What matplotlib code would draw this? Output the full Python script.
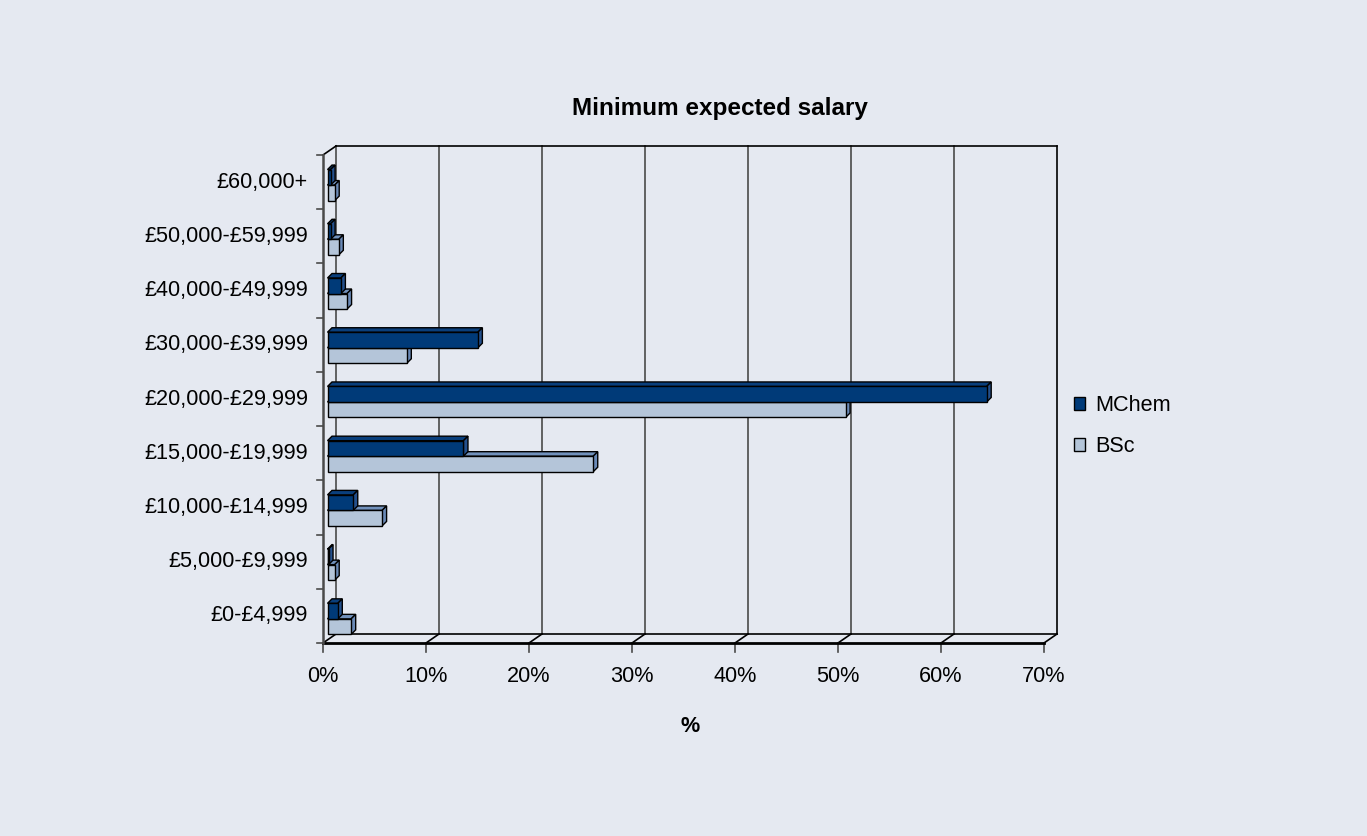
import numpy as np
import matplotlib.pyplot as plt
from matplotlib.patches import Polygon, Patch
from matplotlib.lines import Line2D
from matplotlib.transforms import IdentityTransform

plt.rcParams['font.family'] = ['Liberation Sans', 'DejaVu Sans']

# Survey answers, % of respondents per salary band
categories = ['£0-£4,999', '£5,000-£9,999', '£10,000-£14,999', '£15,000-£19,999',
              '£20,000-£29,999', '£30,000-£39,999', '£40,000-£49,999',
              '£50,000-£59,999', '£60,000+']
mchem = [1.0, 0.1, 2.5, 13.2, 64.0, 14.6, 1.3, 0.3, 0.3]
bsc = [2.3, 0.7, 5.3, 25.8, 50.3, 7.7, 1.9, 1.1, 0.7]
xticks = [0, 10, 20, 30, 40, 50, 60, 70]

bg = '#e5e9f1'
mchem_cols = ('#003a78', '#0a3f7c', '#24508c')   # front, top, side
bsc_cols = ('#b4c5d9', '#7191bc', '#6a8ab7')

W, H = 1367, 836
fig = plt.figure(figsize=(W / 100, H / 100), dpi=100, facecolor=bg)
ax = fig.add_axes([323 / W, 1 - 643 / H, 721 / W, 488 / H])
ax.set_xlim(0, 70)
ax.set_ylim(0, 9)
ax.axis('off')

DEPTH = np.array([13.0, 9.0])      # front plane -> back wall, in pixels
BAR_FRONT = np.array([4.5, 3.0])   # bars sit a little behind the front plane
BAR_DEPTH = np.array([4.5, 4.5])


def P(x, y, off=(0, 0)):
    return ax.transData.transform((x, y)) + np.asarray(off)


def seg(p, q, **kw):
    pts = np.array([p, q])
    ax.add_line(Line2D(pts[:, 0], pts[:, 1], transform=IdentityTransform(),
                       clip_on=False, **kw))


def poly(pts, fc, z):
    ax.add_patch(Polygon(pts, closed=True, facecolor=fc, edgecolor='black',
                         lw=1.0, joinstyle='miter', transform=IdentityTransform(),
                         clip_on=False, zorder=z))


# back wall with gridlines
for x in xticks:
    col = 'black' if x == 70 else '#4a4a4a'
    seg(P(x, 0, DEPTH), P(x, 9, DEPTH), color=col, lw=1.2, zorder=1)
seg(P(0, 9, DEPTH), P(70, 9, DEPTH), color='black', lw=1.2, zorder=1)
seg(P(0, 0, DEPTH), P(70, 0, DEPTH), color='black', lw=1.2, zorder=1)

# floor
for x in xticks:
    seg(P(x, 0), P(x, 0, DEPTH), color='black', lw=1.2, zorder=1)
    seg(P(x, 0), P(x, 0, (0, -9)), color='#4a4a4a', lw=1.2, zorder=1)
seg(P(0, 0), P(70, 0), color='black', lw=2.0, zorder=5)

# left wall
seg(P(0, 0), P(0, 9), color='#4a4a4a', lw=1.8, zorder=5)
seg(P(0, 9), P(0, 9, DEPTH), color='black', lw=1.2, zorder=1)
for k in range(10):
    seg(P(0, k), P(0, k, (-6, 0)), color='#4a4a4a', lw=1.2, zorder=5)

# 3D bars
half = 0.286
for i in range(len(categories)):
    c = i + 0.39
    for val, y0, y1, cols in ((bsc[i], c - half, c, bsc_cols),
                              (mchem[i], c, c + half, mchem_cols)):
        f0, f1 = P(0, y0, BAR_FRONT), P(val, y0, BAR_FRONT)
        f2, f3 = P(val, y1, BAR_FRONT), P(0, y1, BAR_FRONT)
        poly([f3, f2, f2 + BAR_DEPTH, f3 + BAR_DEPTH], cols[1], 3)
        poly([f1, f2, f2 + BAR_DEPTH, f1 + BAR_DEPTH], cols[2], 3)
        poly([f0, f1, f2, f3], cols[0], 3)

# tick labels
for i, lab in enumerate(categories):
    x, y = P(0, i + 0.5, (-15, 0))
    fig.text(x / W, y / H, lab, ha='right', va='center', fontsize=15.6)
for x in xticks:
    px, py = P(x, 0, (0, -34))
    fig.text(px / W, py / H, f'{x}%', ha='center', va='center', fontsize=15.6)

fig.text(720 / W, 1 - 108 / H, 'Minimum expected salary', ha='center',
         va='center', fontsize=17.5, fontweight='bold')
fig.text(690 / W, 1 - 726 / H, '%', ha='center', va='center', fontsize=15.6,
         fontweight='bold')

handles = [Patch(facecolor=mchem_cols[0], edgecolor='black', label='MChem'),
           Patch(facecolor=bsc_cols[0], edgecolor='black', label='BSc')]
fig.legend(handles=handles, loc='center left', bbox_to_anchor=(1054 / W, 1 - 426 / H),
           frameon=False, fontsize=15.6, handlelength=0.55, handleheight=0.55,
           handletextpad=0.45, labelspacing=0.95)

fig.savefig('out.png', dpi=100, facecolor=bg)
